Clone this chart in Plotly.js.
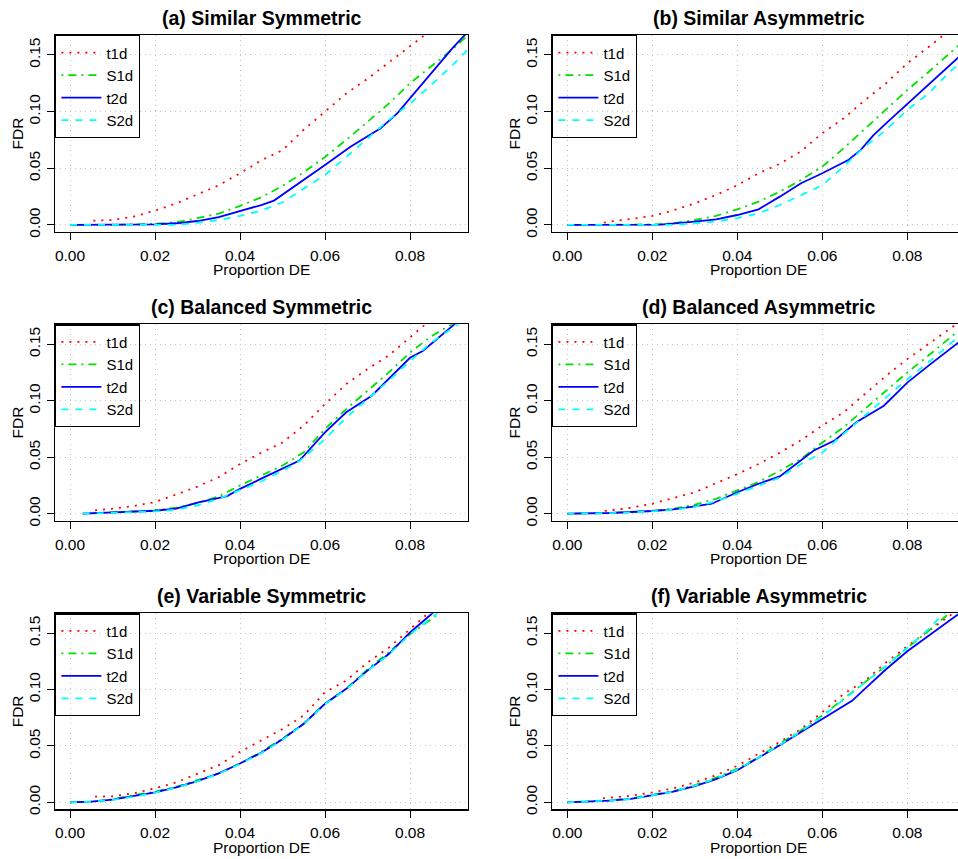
<!DOCTYPE html>
<html>
<head>
<meta charset="utf-8">
<script src="https://cdn.plot.ly/plotly-3.0.1.min.js"></script>
<style>html,body{margin:0;padding:0;background:#fff;}#chart{width:958px;height:859px;}</style>
</head>
<body>
<div id="chart"></div>
<script>
// ---------- data ----------
const panelTitles = ["(a) Similar Symmetric","(b) Similar Asymmetric","(c) Balanced Symmetric","(d) Balanced Asymmetric","(e) Variable Symmetric","(f) Variable Asymmetric"];
const seriesNames = ["t1d","S1d","t2d","S2d"];
const xTickVals = [0,0.02,0.04,0.06,0.08];
const yTickVals = [0,0.05,0.10,0.15];

// panel (a)
const a_t1d_x = [0.0055,0.01,0.015,0.02,0.025,0.03,0.035,0.04,0.045,0.05,0.055,0.06,0.065,0.07,0.075,0.08,0.085];
const a_t1d_y = [0.0038,0.0044,0.0074,0.0126,0.019,0.027,0.035,0.0456,0.057,0.066,0.084,0.100,0.116,0.129,0.143,0.157,0.172];
const a_S1d_x = [0,0.01,0.02,0.025,0.03,0.035,0.04,0.045,0.05,0.055,0.06,0.065,0.07,0.075,0.08,0.085,0.09,0.095];
const a_S1d_y = [0,0,0.001,0.0025,0.006,0.010,0.0168,0.0245,0.0344,0.0465,0.060,0.075,0.091,0.107,0.125,0.140,0.155,0.172];
const a_t2d_x = [0,0.02,0.025,0.03,0.035,0.04,0.045,0.048,0.055,0.06,0.066,0.073,0.077,0.08,0.085,0.09,0.094];
const a_t2d_y = [0,0.0005,0.0015,0.0035,0.007,0.012,0.0176,0.0215,0.0395,0.053,0.069,0.085,0.0985,0.112,0.134,0.156,0.172];
const a_S2d_x = [0,0.025,0.03,0.035,0.04,0.045,0.05,0.055,0.06,0.065,0.07,0.075,0.08,0.085,0.09,0.095];
const a_S2d_y = [0,0,0.002,0.0044,0.008,0.0126,0.02,0.032,0.044,0.060,0.0765,0.0926,0.107,0.1235,0.141,0.160];

// panel (b)
const b_t1d_x = [0.0086,0.01,0.015,0.02,0.025,0.03,0.035,0.04,0.045,0.05,0.055,0.06,0.065,0.07,0.075,0.08,0.085,0.09];
const b_t1d_y = [0.002,0.003,0.0053,0.008,0.013,0.019,0.0265,0.035,0.0456,0.054,0.065,0.081,0.094,0.110,0.125,0.1426,0.157,0.172];
const b_S1d_x = [0,0.02,0.025,0.03,0.035,0.04,0.045,0.05,0.055,0.06,0.065,0.07,0.075,0.08,0.085,0.09,0.095];
const b_S1d_y = [0,0.0005,0.0015,0.0044,0.008,0.0138,0.0206,0.0294,0.0397,0.0515,0.0676,0.085,0.1015,0.119,0.135,0.1515,0.168];
const b_t2d_x = [0,0.022,0.03,0.035,0.04,0.045,0.05,0.055,0.06,0.066,0.069,0.072,0.075,0.08,0.085,0.089,0.095];
const b_t2d_y = [0,0.0003,0.003,0.005,0.0088,0.0138,0.025,0.0368,0.0456,0.057,0.066,0.079,0.0897,0.107,0.1235,0.138,0.158];
const b_S2d_x = [0,0.025,0.03,0.035,0.04,0.045,0.05,0.055,0.06,0.065,0.07,0.075,0.08,0.085,0.09,0.095];
const b_S2d_y = [0,0,0.0015,0.003,0.006,0.0103,0.0176,0.0265,0.035,0.0515,0.069,0.0838,0.1015,0.116,0.135,0.152];

// panel (c)
const c_t1d_x = [0.0059,0.01,0.015,0.02,0.025,0.03,0.035,0.04,0.045,0.05,0.055,0.06,0.065,0.07,0.075,0.08,0.085];
const c_t1d_y = [0.003,0.0044,0.0068,0.0103,0.017,0.024,0.0324,0.044,0.054,0.063,0.078,0.097,0.1147,0.128,0.14,0.156,0.172];
const c_S1d_x = [0.003,0.01,0.02,0.025,0.03,0.035,0.04,0.045,0.05,0.055,0.06,0.065,0.07,0.075,0.08,0.085,0.09,0.095];
const c_S1d_y = [0,0.001,0.003,0.0053,0.0094,0.0153,0.025,0.0338,0.0426,0.0544,0.075,0.0926,0.109,0.125,0.1426,0.157,0.168,0.182];
const c_t2d_x = [0.003,0.01,0.02,0.025,0.03,0.037,0.04,0.045,0.05,0.054,0.06,0.065,0.071,0.075,0.08,0.083,0.09,0.095];
const c_t2d_y = [0,0.001,0.0026,0.0044,0.0097,0.0156,0.022,0.031,0.0397,0.047,0.072,0.0897,0.1044,0.119,0.138,0.144,0.1668,0.182];
const c_S2d_x = [0.003,0.01,0.02,0.025,0.03,0.035,0.04,0.045,0.05,0.054,0.06,0.065,0.07,0.075,0.08,0.085,0.091,0.095];
const c_S2d_y = [0,0.0008,0.002,0.0035,0.0074,0.0132,0.0206,0.0285,0.038,0.0465,0.066,0.085,0.1015,0.1176,0.135,0.1515,0.1668,0.178];

// panel (d)
const d_t1d_x = [0.0088,0.01,0.015,0.02,0.025,0.03,0.035,0.04,0.045,0.05,0.055,0.06,0.065,0.07,0.075,0.08,0.085,0.09,0.095];
const d_t1d_y = [0.0024,0.003,0.0053,0.0088,0.014,0.019,0.027,0.035,0.044,0.054,0.065,0.078,0.0897,0.106,0.122,0.1368,0.15,0.163,0.177];
const d_S1d_x = [0,0.01,0.02,0.025,0.03,0.035,0.04,0.045,0.05,0.055,0.06,0.065,0.07,0.075,0.08,0.085,0.09,0.095];
const d_S1d_y = [0,0.0006,0.0024,0.0044,0.008,0.0132,0.0206,0.028,0.038,0.0485,0.063,0.0765,0.0926,0.109,0.125,0.14,0.156,0.171];
const d_t2d_x = [0,0.01,0.02,0.025,0.03,0.034,0.04,0.045,0.05,0.058,0.063,0.068,0.0745,0.08,0.085,0.09,0.095];
const d_t2d_y = [0,0.0006,0.0024,0.0038,0.0065,0.0088,0.019,0.0265,0.033,0.056,0.065,0.081,0.0956,0.116,0.131,0.1456,0.16];
const d_S2d_x = [0,0.01,0.02,0.025,0.03,0.035,0.04,0.045,0.05,0.055,0.06,0.065,0.07,0.075,0.08,0.085,0.09,0.095];
const d_S2d_y = [0,0.0005,0.002,0.0035,0.006,0.011,0.0176,0.025,0.032,0.044,0.054,0.0706,0.0868,0.103,0.119,0.134,0.15,0.166];

// panel (e)
const e_t1d_x = [0.0059,0.01,0.015,0.02,0.025,0.03,0.035,0.04,0.045,0.05,0.055,0.06,0.065,0.07,0.075,0.08,0.083,0.088];
const e_t1d_y = [0.005,0.0053,0.008,0.0124,0.0176,0.0256,0.033,0.0447,0.055,0.065,0.077,0.0976,0.108,0.124,0.137,0.1535,0.164,0.18];
const e_S1d_x = [0,0.005,0.01,0.015,0.02,0.025,0.03,0.035,0.04,0.045,0.05,0.055,0.06,0.065,0.07,0.075,0.08,0.086,0.09];
const e_S1d_y = [0,0.0006,0.0026,0.0065,0.0094,0.0138,0.0197,0.0256,0.0344,0.0447,0.0565,0.0697,0.0874,0.1006,0.118,0.133,0.149,0.165,0.176];
const e_t2d_x = [0,0.005,0.01,0.015,0.02,0.025,0.03,0.035,0.04,0.045,0.05,0.055,0.06,0.065,0.07,0.075,0.08,0.085,0.09];
const e_t2d_y = [0,0.0006,0.0024,0.0053,0.0088,0.0132,0.0188,0.0256,0.0344,0.044,0.056,0.0697,0.0874,0.1006,0.1168,0.1315,0.1506,0.1668,0.183];
const e_S2d_x = [0,0.005,0.01,0.015,0.02,0.025,0.03,0.035,0.04,0.045,0.05,0.055,0.06,0.065,0.07,0.075,0.08,0.085,0.09];
const e_S2d_y = [0,0.0005,0.0022,0.005,0.0086,0.013,0.0186,0.0254,0.034,0.0437,0.0556,0.0693,0.087,0.1,0.1165,0.131,0.149,0.163,0.178];

// panel (f)
const f_t1d_x = [0.0084,0.01,0.015,0.02,0.025,0.03,0.035,0.04,0.045,0.05,0.055,0.06,0.065,0.07,0.075,0.08,0.085,0.09,0.095];
const f_t1d_y = [0.0035,0.004,0.0059,0.0088,0.0124,0.0176,0.024,0.0324,0.043,0.0535,0.065,0.08,0.096,0.1077,0.124,0.1385,0.152,0.1655,0.179];
const f_S1d_x = [0,0.01,0.015,0.02,0.025,0.03,0.035,0.04,0.045,0.05,0.055,0.06,0.065,0.07,0.075,0.08,0.085,0.09,0.095];
const f_S1d_y = [0,0.0018,0.0035,0.0065,0.01,0.0153,0.0218,0.03,0.04,0.052,0.0638,0.077,0.0918,0.1065,0.121,0.137,0.152,0.168,0.183];
const f_t2d_x = [0,0.01,0.015,0.02,0.025,0.03,0.035,0.04,0.045,0.05,0.055,0.06,0.067,0.07,0.075,0.08,0.085,0.092];
const f_t2d_y = [0,0.0015,0.003,0.0059,0.0094,0.0144,0.0206,0.0285,0.0394,0.0506,0.0624,0.074,0.09,0.1006,0.118,0.134,0.1476,0.1668];
const f_S2d_x = [0,0.01,0.015,0.02,0.025,0.03,0.035,0.04,0.045,0.05,0.055,0.06,0.065,0.07,0.075,0.08,0.085,0.088,0.092];
const f_S2d_y = [0,0.0015,0.003,0.006,0.0095,0.0148,0.021,0.029,0.0395,0.051,0.063,0.076,0.091,0.106,0.121,0.137,0.1535,0.1655,0.178];

const panelData = [
  [[a_t1d_x,a_t1d_y],[a_S1d_x,a_S1d_y],[a_t2d_x,a_t2d_y],[a_S2d_x,a_S2d_y]],
  [[b_t1d_x,b_t1d_y],[b_S1d_x,b_S1d_y],[b_t2d_x,b_t2d_y],[b_S2d_x,b_S2d_y]],
  [[c_t1d_x,c_t1d_y],[c_S1d_x,c_S1d_y],[c_t2d_x,c_t2d_y],[c_S2d_x,c_S2d_y]],
  [[d_t1d_x,d_t1d_y],[d_S1d_x,d_S1d_y],[d_t2d_x,d_t2d_y],[d_S2d_x,d_S2d_y]],
  [[e_t1d_x,e_t1d_y],[e_S1d_x,e_S1d_y],[e_t2d_x,e_t2d_y],[e_S2d_x,e_S2d_y]],
  [[f_t1d_x,f_t1d_y],[f_S1d_x,f_S1d_y],[f_t2d_x,f_t2d_y],[f_S2d_x,f_S2d_y]]
];

// ---------- styling ----------
const W = 958, H = 859;
const FONT = "Liberation Sans, Arial, Helvetica, sans-serif";
const lineStyles = [
  {color:"#FF0000", dash:"2px,6px", width:1.8},
  {color:"#00E000", dash:"2px,5px,8px,5px", width:1.8},
  {color:"#0000FF", dash:"solid", width:1.8},
  {color:"#00FFFF", dash:"7px,7px", width:1.8}
];
// plot boxes in pixels [left, right, top, bottom]
const boxes = [
  [55,468,35,232],[552,958,35,232],
  [55,468,324.3,520.7],[552,958,324.3,520.7],
  [55,468,613.3,809.3],[552,958,613.3,809.3]
];
const fullRight = [468, 965];   // uncropped right edges (left col, right col)

const traces = [];
const layout = {
  width: W, height: H,
  margin: {l:0, r:0, t:0, b:0},
  paper_bgcolor: "#fff", plot_bgcolor: "rgba(0,0,0,0)",
  showlegend: true,
  font: {family: FONT, size: 15.5, color: "#000"},
  annotations: []
};

panelData.forEach((series, p) => {
  const idx = p + 1;
  const xa = "x" + (idx === 1 ? "" : idx), ya = "y" + (idx === 1 ? "" : idx);
  const legId = "legend" + (idx === 1 ? "" : idx);
  series.forEach((s, k) => {
    traces.push({
      type: "scatter", mode: "lines",
      x: s[0], y: s[1], name: seriesNames[k],
      xaxis: xa, yaxis: ya, legend: legId,
      line: lineStyles[k], cliponaxis: true, hoverinfo: "skip"
    });
  });
  const [L, R, T, B] = boxes[p];
  const isRight = (p % 2) === 1;
  const x0px = isRight ? 567.3 : 70;          // pixel of x = 0
  const pxPerUnit = 4250;
  const xr = [(L - x0px) / pxPerUnit, (R - x0px) / pxPerUnit];
  const axCommon = {
    showline: true, linecolor: "#000", linewidth: 1.4,
    ticks: "outside", ticklen: 7, tickwidth: 1, tickcolor: "#000",
    showgrid: true, gridcolor: "#c4c4c4", griddash: "1px,4px", gridwidth: 1,
    zeroline: false, tickformat: ".2f",
    tickfont: {family: FONT, size: 15.5, color: "#000"}
  };
  layout["xaxis" + (idx === 1 ? "" : idx)] = Object.assign({}, axCommon, {
    domain: [L / W, R / W], range: xr, tickvals: xTickVals,
    anchor: ya, mirror: true, ticklabelstandoff: 2
  });
  layout["yaxis" + (idx === 1 ? "" : idx)] = Object.assign({}, axCommon, {
    domain: [1 - B / H, 1 - T / H], range: [-0.0062, 0.1676], tickvals: yTickVals,
    anchor: xa, mirror: isRight ? false : true, tickangle: -90, ticklabelstandoff: 0
  });
  layout[legId] = {
    x: L / W, y: 1 - T / H, xanchor: "left", yanchor: "top",
    xref: "paper", yref: "paper",
    bgcolor: "rgba(0,0,0,0)", bordercolor: "#000", borderwidth: 1.4,
    font: {family: FONT, size: 15, color: "#000"},
    itemwidth: 40, tracegroupgap: 0
  };
  const cx = (L + (isRight ? fullRight[1] : fullRight[0])) / 2;
  const cy = (T + B) / 2;
  layout.annotations.push({
    text: "<b>" + panelTitles[p] + "</b>", xref: "paper", yref: "paper",
    x: cx / W, y: 1 - (T - 17) / H, xanchor: "center", yanchor: "middle",
    showarrow: false, font: {family: FONT, size: 19.5, color: "#000"}
  });
  layout.annotations.push({
    text: "Proportion DE", xref: "paper", yref: "paper",
    x: cx / W, y: 1 - (B + 38) / H, xanchor: "center", yanchor: "middle",
    showarrow: false, font: {family: FONT, size: 15.5, color: "#000"}
  });
  layout.annotations.push({
    text: "FDR", xref: "paper", yref: "paper", textangle: -90,
    x: (L - 38) / W, y: 1 - cy / H, xanchor: "center", yanchor: "middle",
    showarrow: false, font: {family: FONT, size: 15.5, color: "#000"}
  });
});

Plotly.newPlot("chart", traces, layout, {staticPlot: true, displayModeBar: false});
</script>
</body>
</html>
